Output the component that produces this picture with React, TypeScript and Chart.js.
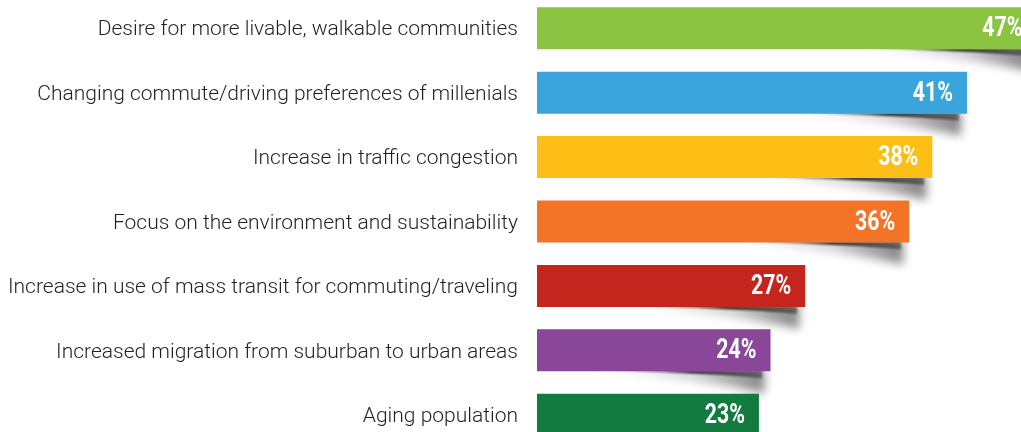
import React, { useEffect, useRef } from "react";
import { Chart, registerables } from "chart.js";

Chart.register(...registerables);

const categories = [
  "Desire for more livable, walkable communities",
  "Changing commute/driving preferences of millenials",
  "Increase in traffic congestion",
  "Focus on the environment and sustainability",
  "Increase in use of mass transit for commuting/traveling",
  "Increased migration from suburban to urban areas",
  "Aging population",
];
const values = [47, 41, 38, 36, 27, 24, 23];
const barColors = ["#8bc443", "#3aa5dc", "#fdbf16", "#f47427", "#c4261d", "#8a4699", "#137b40"];

const shadowPlugin = {
  id: "curlShadow",
  beforeDatasetsDraw(chart: any) {
    const ctx = chart.ctx;
    const meta = chart.getDatasetMeta(0);
    meta.data.forEach((bar: any) => {
      const end = bar.x;
      const bottom = bar.y + bar.height / 2;
      const len = 185;
      const x0 = end - len;
      ctx.save();
      ctx.filter = "blur(5px)";
      let g = ctx.createLinearGradient(x0, 0, end, 0);
      g.addColorStop(0, "rgba(0,0,0,0)");
      g.addColorStop(0.6, "rgba(0,0,0,0.18)");
      g.addColorStop(1, "rgba(0,0,0,0.5)");
      ctx.fillStyle = g;
      ctx.beginPath();
      ctx.moveTo(x0, bottom - 2);
      ctx.lineTo(end - 6, bottom - 2);
      ctx.lineTo(end - 6, bottom + 22);
      ctx.quadraticCurveTo(end - 70, bottom + 8, x0, bottom - 2);
      ctx.closePath();
      ctx.fill();
      ctx.restore();
      ctx.save();
      ctx.filter = "blur(1.2px)";
      g = ctx.createLinearGradient(x0 + 10, 0, end, 0);
      g.addColorStop(0, "rgba(0,0,0,0)");
      g.addColorStop(0.55, "rgba(0,0,0,0.8)");
      g.addColorStop(1, "rgba(0,0,0,0.35)");
      ctx.fillStyle = g;
      ctx.beginPath();
      ctx.moveTo(x0 + 10, bottom - 1);
      ctx.lineTo(end - 8, bottom - 1);
      ctx.lineTo(end - 8, bottom + 7);
      ctx.quadraticCurveTo(end - 60, bottom + 2, x0 + 10, bottom - 1);
      ctx.closePath();
      ctx.fill();
      ctx.restore();
    });
  },
  afterDatasetsDraw(chart: any) {
    const ctx = chart.ctx;
    const meta = chart.getDatasetMeta(0);
    ctx.save();
    ctx.fillStyle = "#ffffff";
    ctx.font = "bold 28px Roboto";
    ctx.textAlign = "right";
    ctx.textBaseline = "middle";
    meta.data.forEach((bar: any, i: number) => {
      const tx = bar.x - 14;
      const ty = bar.y + 1;
      ctx.save();
      ctx.translate(tx, ty);
      ctx.scale(0.76, 1);
      ctx.fillText(values[i] + "%", 0, 0);
      ctx.restore();
    });
    ctx.restore();
  },
};

export default function App() {
  const ref = useRef<HTMLCanvasElement>(null);
  useEffect(() => {
    if (!ref.current) return;
    const chart = new Chart(ref.current, {
      type: "bar",
      data: {
        labels: categories,
        datasets: [
          {
            data: values,
            backgroundColor: barColors,
            borderWidth: 0,
            barPercentage: 0.652,
            categoryPercentage: 1,
          },
        ],
      },
      options: {
        indexAxis: "y",
        responsive: false,
        animation: false,
        devicePixelRatio: 1,
        layout: { padding: 0 },
        plugins: { legend: { display: false }, tooltip: { enabled: false } },
        scales: {
          x: { display: false, min: 3.8, max: 45.67 },
          y: {
            grid: { display: false, drawTicks: false },
            border: { display: false },
            ticks: {
              padding: 19,
              labelOffset: 2,
              color: "#231f20",
              font: { family: "Roboto", size: 21, weight: "300" },
            },
            afterFit: (s: any) => {
              s.width = 537;
              s.paddingTop = 0;
              s.paddingBottom = 0;
            },
          },
        },
      },
      plugins: [shadowPlugin],
    });
    return () => chart.destroy();
  }, []);
  return (
    <div style={{ position: "fixed", left: 0, top: 0, width: 1021, height: 432, overflow: "hidden", background: "#fff" }}>
      <canvas ref={ref} width={1021} height={451} style={{ position: "absolute", left: 0, top: -4, width: 1021, height: 451 }} />
    </div>
  );
}
